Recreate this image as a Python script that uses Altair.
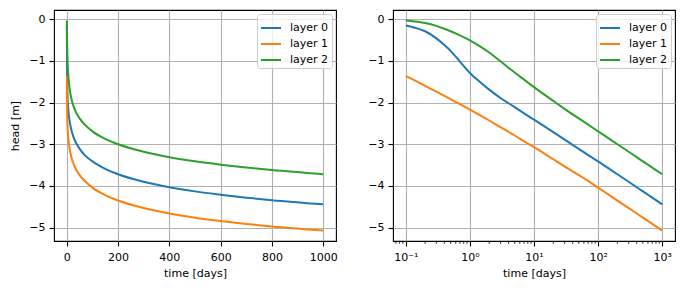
import altair as alt
import pandas as pd

times = [0.1, 0.15, 0.2, 0.3, 0.4, 0.5, 0.7, 1, 1.5, 2, 3, 5, 7, 10, 20, 30, 50, 70,
         100, 150, 200, 300, 400, 500, 600, 700, 800, 1000]
layer0 = [-0.15, -0.22, -0.29, -0.46, -0.62, -0.76, -1.02, -1.29, -1.53, -1.69, -1.89, -2.11,
          -2.26, -2.41, -2.71, -2.89, -3.11, -3.26, -3.41, -3.59, -3.72, -3.90, -4.03,
          -4.13, -4.21, -4.28, -4.34, -4.44]
layer1 = [-1.36, -1.50, -1.60, -1.74, -1.84, -1.92, -2.04, -2.17, -2.32, -2.43, -2.59, -2.79,
          -2.93, -3.07, -3.36, -3.53, -3.74, -3.88, -4.04, -4.22, -4.35, -4.53, -4.66,
          -4.76, -4.84, -4.91, -4.97, -5.07]
layer2 = [-0.03, -0.06, -0.09, -0.16, -0.23, -0.29, -0.39, -0.51, -0.67, -0.80, -1.01, -1.28,
          -1.45, -1.63, -1.96, -2.15, -2.38, -2.53, -2.69, -2.87, -3.00, -3.18, -3.31,
          -3.41, -3.49, -3.56, -3.62, -3.72]
layer_names = ["layer 0", "layer 1", "layer 2"]
colors = ["#1f77b4", "#ff7f0e", "#2ca02c"]
lin_ticks = [0, 200, 400, 600, 800, 1000]
log_ticks = [0.1, 1, 10, 100, 1000]
minor_ticks = [0.07, 0.08, 0.09, 0.2, 0.3, 0.4, 0.5, 0.6, 0.7, 0.8, 0.9,
               2, 3, 4, 5, 6, 7, 8, 9, 20, 30, 40, 50, 60, 70, 80, 90,
               200, 300, 400, 500, 600, 700, 800, 900]
y_ticks = [-5, -4, -3, -2, -1, 0]

rows = []
for name, vals in zip(layer_names, [layer0, layer1, layer2]):
    for t, v in zip(times, vals):
        rows.append({"time": t, "head": v, "layer": name})
df = pd.DataFrame(rows)
minor_df = pd.DataFrame({"t": minor_ticks})

W, H = 282, 231
FONT = "DejaVu Sans"
FS = 11
ydomain = [-5.32, 0.22]

legend = alt.Legend(
    title=None, orient="top-right", offset=4, fillColor="rgba(255,255,255,0.8)",
    strokeColor="#cccccc", cornerRadius=3, padding=3, symbolType="stroke",
    symbolStrokeWidth=2, symbolSize=400, labelFontSize=FS, labelFont=FONT,
    labelColor="black", labelOffset=8, rowPadding=0,
)
color = alt.Color("layer:N", scale=alt.Scale(domain=layer_names, range=colors), legend=legend)

left = alt.Chart(df).mark_line(strokeWidth=2, clip=True, interpolate="monotone").encode(
    x=alt.X("time:Q", scale=alt.Scale(domain=[-50, 1050], nice=False, zero=False),
            axis=alt.Axis(values=lin_ticks, title="time [days]", format="d")),
    y=alt.Y("head:Q", scale=alt.Scale(domain=ydomain, nice=False, zero=False),
            axis=alt.Axis(values=y_ticks, title="head [m]", titlePadding=8)),
    color=color,
).properties(width=W, height=H)

right_lines = alt.Chart(df).mark_line(strokeWidth=2, clip=True, interpolate="monotone").encode(
    x=alt.X("time:Q", scale=alt.Scale(type="log", domain=[0.0631, 1585], nice=False),
            axis=alt.Axis(values=log_ticks, title="time [days]",
                          labelExpr="'10' + ['\u207b\u00b9','\u2070','\u00b9','\u00b2','\u00b3'][round(log(datum.value)/LN10)+1]")),
    y=alt.Y("head:Q", scale=alt.Scale(domain=ydomain, nice=False, zero=False),
            axis=alt.Axis(values=y_ticks, title=None)),
    color=color,
)
minor = alt.Chart(minor_df).mark_rule(color="black", strokeWidth=0.8).encode(
    x=alt.X("t:Q"),
    y=alt.value(H),
    y2=alt.value(H + 2.8),
)
right = alt.layer(right_lines, minor).properties(width=W, height=H)

chart = alt.hconcat(left, right, spacing=57, bounds="flush").resolve_legend(
    color="independent"
).properties(
    padding={"left": 9, "top": 9, "right": 5, "bottom": 5}
).configure_view(
    stroke="black", strokeWidth=1.1
).configure_axis(
    domain=False, grid=True, gridColor="#b0b0b0", gridWidth=1.1,
    tickColor="black", tickSize=5, tickWidth=1.1,
    labelFont=FONT, labelFontSize=FS, labelColor="black",
    titleFont=FONT, titleFontSize=FS, titleFontWeight="normal", titleColor="black",
).configure_axisX(titlePadding=5, labelPadding=5).configure_axisY(labelPadding=4)

chart.save("out.html", embed_options={"renderer": "svg", "actions": False})
